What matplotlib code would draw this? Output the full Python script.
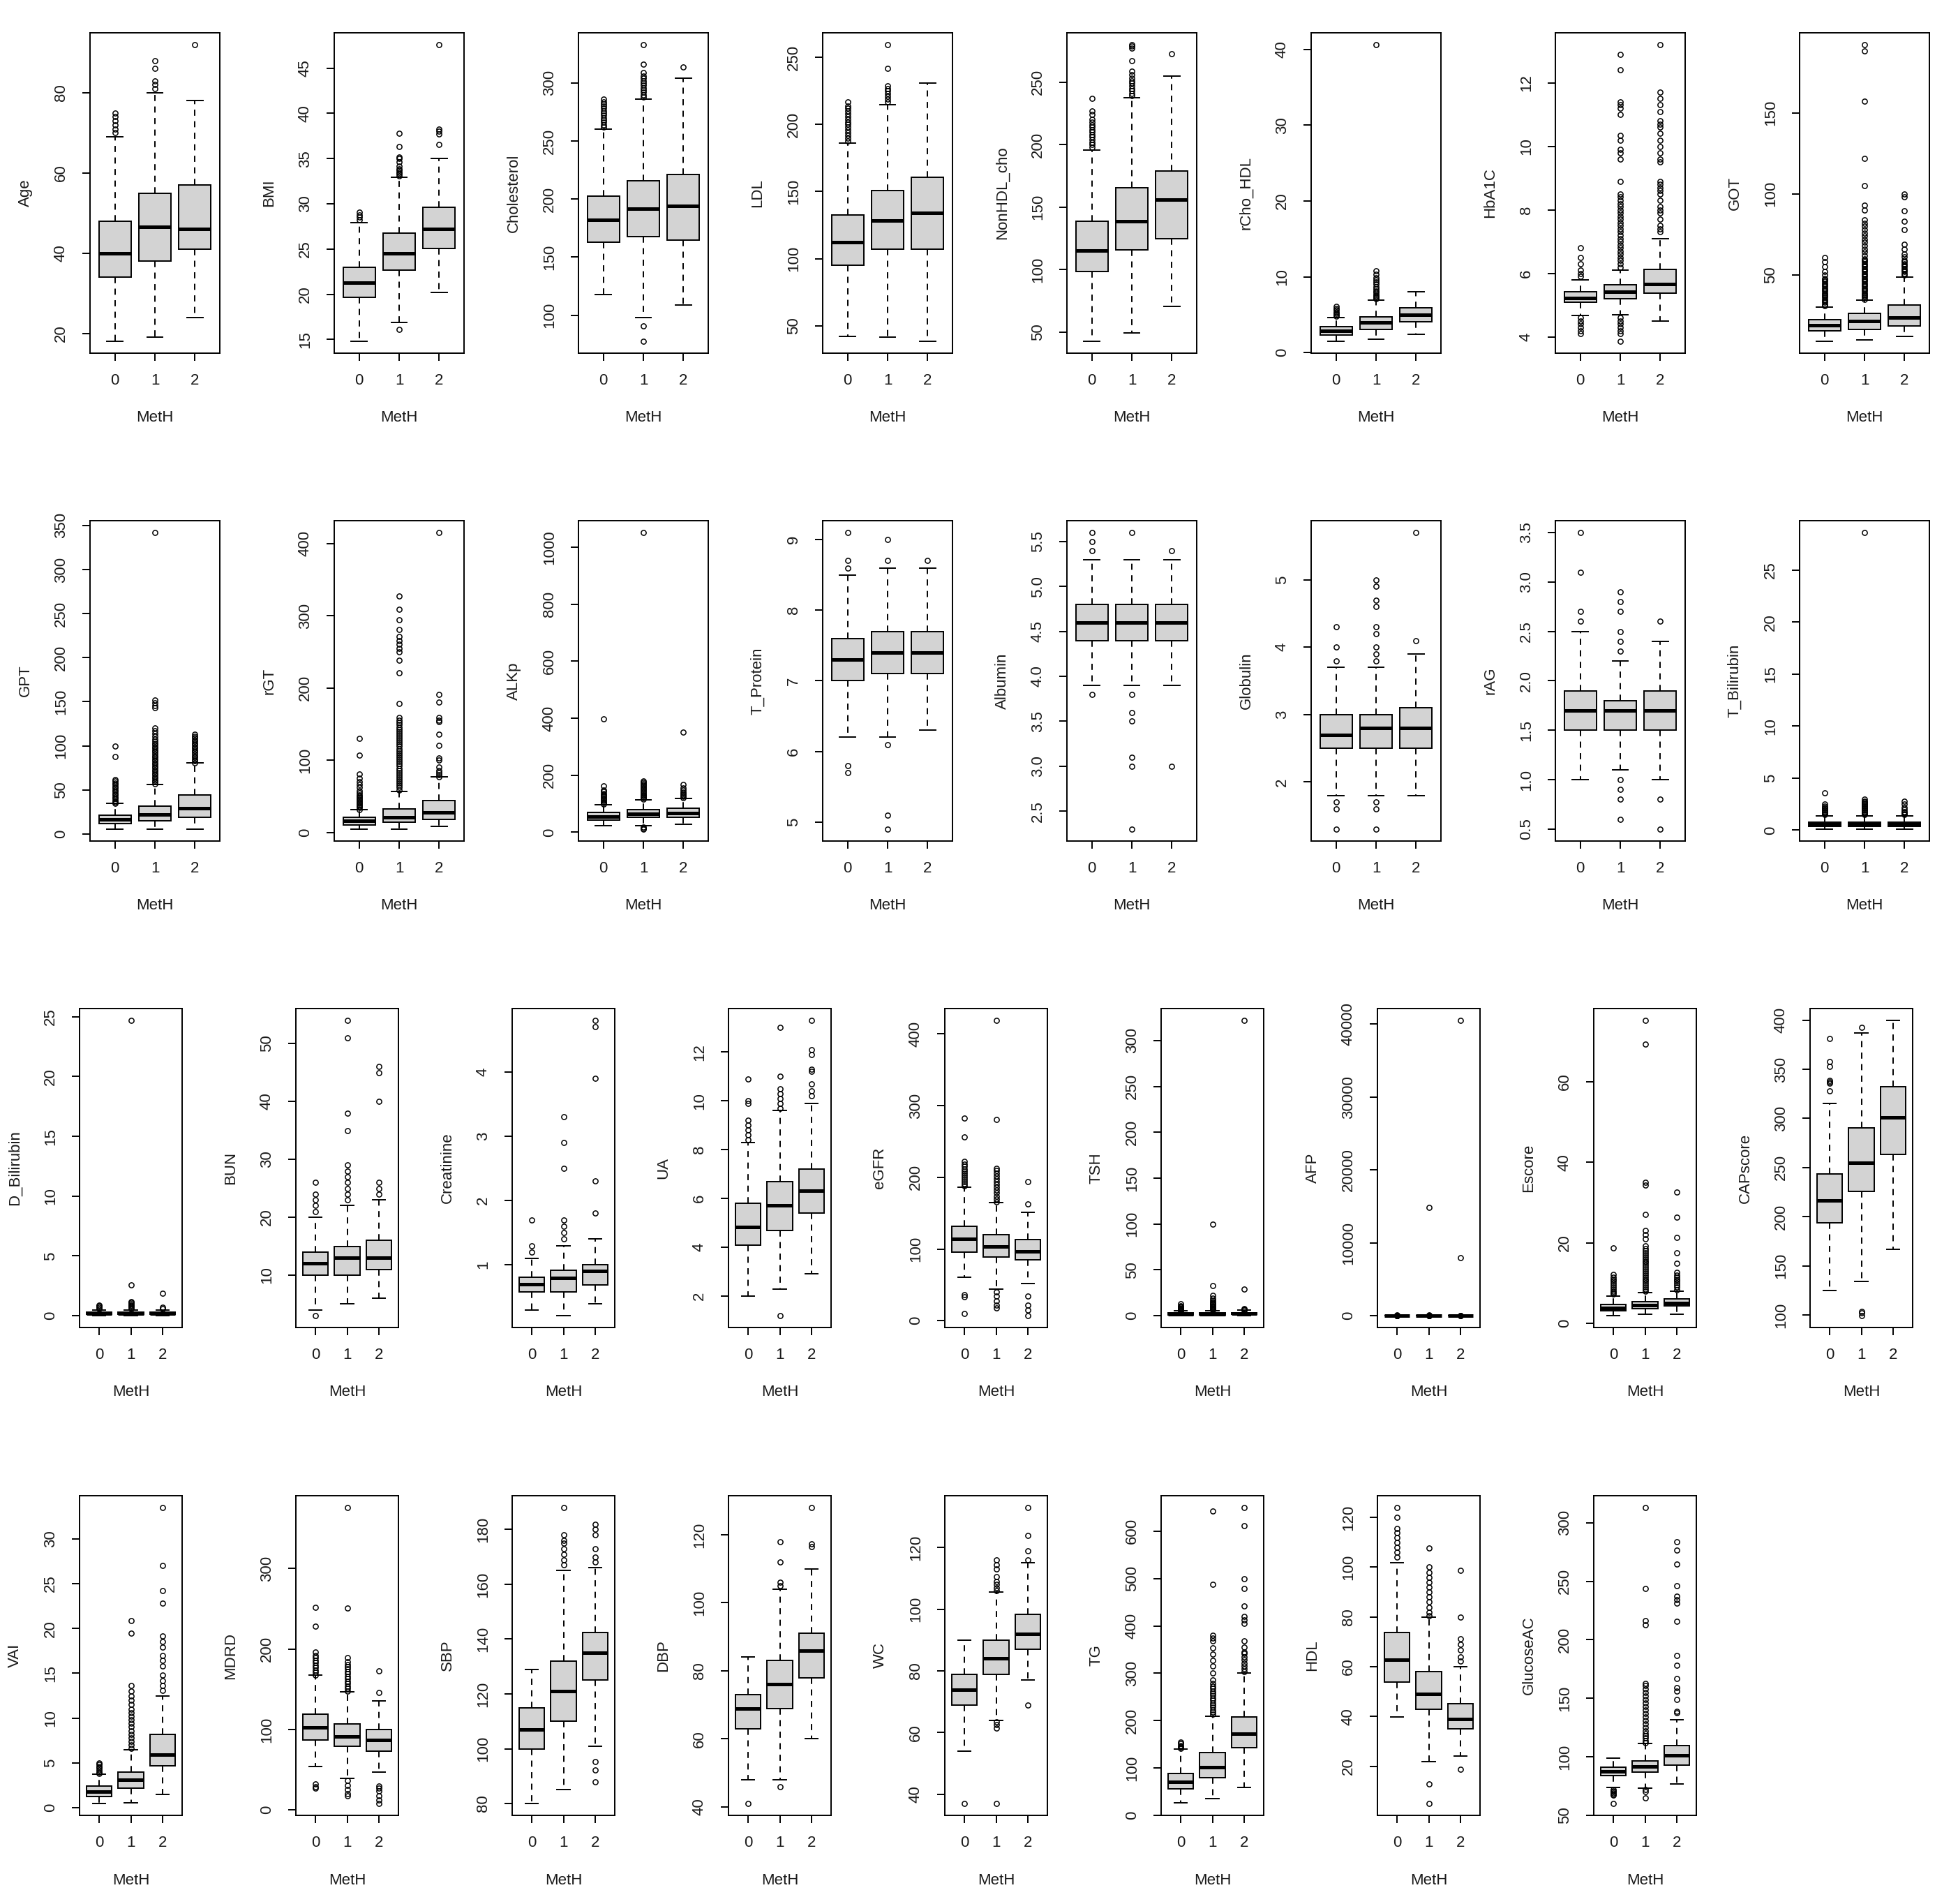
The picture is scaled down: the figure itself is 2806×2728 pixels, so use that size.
import matplotlib
matplotlib.use("Agg")
import matplotlib.pyplot as plt

plt.rcParams['font.family'] = ['Liberation Sans', 'DejaVu Sans']

GROUPS = ["0", "1", "2"]
XLABEL = "MetH"

# ---- per-panel data: box = [whislo, q1, median, q3, whishi] per group; out = outliers per group
AGE_BOX = [[18, 34, 40, 48, 69], [19, 38, 46.5, 55, 80], [24, 41, 46, 57, 78]]
AGE_OUT = [[70, 71, 72, 73, 74, 75], [81, 82, 83, 86, 88], [92]]
AGE_TICKS = [20, 40, 60, 80]

BMI_BOX = [[14.8, 19.7, 21.3, 23.0, 27.9], [16.9, 22.7, 24.5, 26.8, 32.9], [20.2, 25.1, 27.2, 29.6, 35.0]]
BMI_OUT = [[28.2, 28.5, 28.8, 29.1],
           [16.1, 33.1, 33.3, 33.5, 33.7, 33.9, 34.2, 34.6, 35.0, 35.2, 36.3, 37.8],
           [36.6, 37.7, 38.0, 38.3, 47.6]]
BMI_TICKS = [15, 20, 25, 30, 35, 40, 45]

CHOL_BOX = [[117.6, 162.7, 182.2, 202.5, 260.4], [97.7, 167.6, 192, 216, 286.3], [108.8, 164.8, 194, 221, 304.4]]
CHOL_OUT = [[262, 264, 266, 268, 270, 272, 274, 276, 278, 280, 282, 284, 286],
            [77.5, 90.7, 288, 290, 292, 294, 296, 298, 300, 302, 304, 306, 309, 316, 333],
            [314]]
CHOL_TICKS = [100, 150, 200, 250, 300]

LDL_BOX = [[42, 94.8, 112.3, 132.4, 186.3], [41.4, 106.9, 128.4, 151, 214.8], [38.3, 106.9, 134, 160.6, 230.9]]
LDL_OUT = [[188, 190, 192, 194, 196, 198, 200, 202, 204, 206, 208, 210, 212, 214, 217],
           [217, 219, 221, 223, 225, 227, 229, 242, 259.6],
           []]
LDL_TICKS = [50, 100, 150, 200, 250]

NONHDL_BOX = [[42.5, 98.6, 115.2, 138.4, 195.8], [49.1, 115.6, 138.8, 165.3, 237.7], [70.4, 124.8, 156, 179, 255]]
NONHDL_OUT = [[198, 200, 202, 204, 206, 208, 210, 212, 214, 216, 218, 220, 224, 227, 236.7],
              [239, 241, 243, 245, 247, 249, 251, 253, 256, 259, 267, 277, 279, 280],
              [272.8]]
NONHDL_TICKS = [50, 100, 150, 200, 250]

RCHO_BOX = [[1.5, 2.3, 2.9, 3.4, 4.6], [1.8, 3.1, 3.95, 4.7, 6.9], [2.4, 4.1, 5.0, 5.9, 8.0]]
RCHO_OUT = [[4.8, 5.0, 5.2, 5.4, 5.6, 5.8, 6.1],
            [7.1, 7.3, 7.5, 7.7, 7.9, 8.1, 8.4, 8.7, 9.0, 9.3, 9.6, 9.9, 10.3, 10.8, 40.6],
            []]
RCHO_TICKS = [0, 10, 20, 30, 40]

HBA_BOX = [[4.68, 5.08, 5.23, 5.42, 5.8], [4.7, 5.19, 5.42, 5.63, 6.1], [4.49, 5.38, 5.67, 6.12, 7.1]]
HBA_OUT = [[4.1, 4.2, 4.3, 4.4, 4.5, 4.6, 5.9, 6.0, 6.1, 6.3, 6.5, 6.8],
           [3.86, 4.1, 4.2, 4.3, 4.4, 4.5, 4.6, 6.2, 6.3, 6.4, 6.5, 6.6, 6.7, 6.8, 6.9, 7.0, 7.1, 7.2,
            7.3, 7.4, 7.5, 7.6, 7.7, 7.8, 7.9, 8.0, 8.1, 8.2, 8.3, 8.4, 8.5, 8.9, 9.6, 9.8, 9.9, 10.2,
            10.35, 11.0, 11.2, 11.3, 11.4, 12.4, 12.9],
           [7.3, 7.4, 7.5, 7.7, 7.9, 8.0, 8.1, 8.3, 8.5, 8.6, 8.7, 8.8, 8.9, 9.5, 9.6, 9.8, 10.0, 10.2,
            10.4, 10.6, 10.7, 10.8, 11.1, 11.3, 11.5, 11.7, 13.2]]
HBA_TICKS = [4, 6, 8, 10, 12]

GOT_BOX = [[9.1, 15.4, 19, 22.5, 30.2], [10, 16.6, 21.5, 26.4, 34.3], [12.1, 18.7, 23.6, 31.4, 48.8]]
GOT_OUT = [[31, 32, 33, 34, 35, 36, 37, 38, 39, 40, 41, 42, 43, 44, 45, 46, 47, 48, 50, 52, 55, 58, 60.7],
           [35, 36, 37, 38, 39, 40, 41, 42, 43, 44, 45, 46, 47, 48, 49, 50, 51, 52, 53, 54, 55, 56, 57,
            58, 59, 60, 62, 64, 66, 68, 70, 72, 74, 76, 78, 80, 82, 84, 90, 93, 105, 122, 157, 188, 192],
           [50, 51, 52, 53, 54, 55, 56, 57, 58, 59, 61, 63, 66, 69, 78, 83, 89.5, 98, 100]]
GOT_TICKS = [50, 100, 150]

GPT_BOX = [[5.5, 11.6, 16.2, 21.7, 34.6], [5.5, 14.7, 22.4, 31.5, 56], [5.5, 18.7, 29.1, 44.4, 80.5]]
GPT_OUT = [[35, 36, 38, 40, 42, 44, 46, 48, 50, 52, 54, 56, 58, 60, 62, 88, 100],
           [57, 59, 61, 63, 65, 67, 69, 71, 73, 75, 77, 79, 81, 83, 85, 87, 89, 91, 93, 95, 97, 99, 101,
            103, 105, 108, 111, 114, 117, 120, 143, 146, 149, 152, 342],
           [81, 83, 85, 87, 89, 91, 93, 95, 97, 99, 101, 103, 105, 107, 109, 111, 113]]
GPT_TICKS = [0, 50, 100, 150, 200, 250, 300, 350]

RGT_BOX = [[4.5, 10, 15.7, 20.5, 31.7], [4.5, 14.6, 21.3, 32.5, 56.7], [8.2, 18.3, 28, 44.4, 76.5]]
RGT_OUT = [[32, 34, 36, 38, 40, 42, 44, 46, 48, 50, 52, 55, 58, 62, 66, 70, 75, 81, 107, 130],
           [59, 62, 65, 68, 71, 74, 77, 80, 83, 86, 89, 92, 95, 98, 101, 104, 107, 110, 113, 116, 119,
            122, 125, 128, 131, 134, 137, 140, 143, 146, 149, 152, 155, 159, 178, 221, 238, 250, 255,
            260, 265, 271, 281, 294, 309, 327],
           [77, 80, 83, 86, 90, 100, 103, 120, 136, 153, 155, 159, 180, 191, 415]]
RGT_TICKS = [0, 100, 200, 300, 400]

ALKP_BOX = [[22.5, 43, 55, 69, 97.3], [22.5, 52.4, 64.5, 78.6, 113], [27, 52.4, 67.4, 83.3, 117.9]]
ALKP_OUT = [[99, 103, 107, 111, 115, 120, 125, 130, 136, 142, 148, 163, 397],
            [11, 14, 18, 116, 120, 124, 128, 132, 136, 140, 145, 150, 155, 160, 165, 170, 176, 181, 1051],
            [121, 125, 130, 135, 140, 147, 155, 167, 350]]
ALKP_TICKS = [0, 200, 400, 600, 800, 1000]

TPRO_BOX = [[6.2, 7.0, 7.3, 7.6, 8.5], [6.2, 7.1, 7.4, 7.7, 8.6], [6.3, 7.1, 7.4, 7.7, 8.6]]
TPRO_OUT = [[5.7, 5.8, 8.6, 8.7, 9.1], [4.9, 5.1, 6.1, 8.7, 9.0], [8.7]]
TPRO_TICKS = [5, 6, 7, 8, 9]

ALB_BOX = [[3.9, 4.4, 4.6, 4.8, 5.3], [3.9, 4.4, 4.6, 4.8, 5.3], [3.9, 4.4, 4.6, 4.8, 5.3]]
ALB_OUT = [[3.8, 5.4, 5.5, 5.6], [2.3, 3.0, 3.1, 3.5, 3.6, 3.8, 5.6], [3.0, 5.4]]
ALB_TICKS = [2.5, 3.0, 3.5, 4.0, 4.5, 5.0, 5.5]

GLOB_BOX = [[1.8, 2.5, 2.7, 3.0, 3.7], [1.8, 2.5, 2.8, 3.0, 3.7], [1.8, 2.5, 2.8, 3.1, 3.9]]
GLOB_OUT = [[1.3, 1.6, 1.7, 3.8, 4.0, 4.3],
            [1.3, 1.6, 1.7, 3.8, 3.9, 4.0, 4.2, 4.3, 4.6, 4.7, 4.9, 5.0],
            [4.1, 5.7]]
GLOB_TICKS = [2, 3, 4, 5]

RAG_BOX = [[1.0, 1.5, 1.7, 1.9, 2.5], [1.1, 1.5, 1.7, 1.8, 2.2], [1.0, 1.5, 1.7, 1.9, 2.4]]
RAG_OUT = [[2.6, 2.7, 3.1, 3.5], [0.6, 0.8, 0.9, 1.0, 2.3, 2.4, 2.5, 2.7, 2.8, 2.9], [0.5, 0.8, 2.6]]
RAG_TICKS = [0.5, 1.0, 1.5, 2.0, 2.5, 3.0, 3.5]

TBIL_BOX = [[0.1, 0.4, 0.6, 0.8, 1.4], [0.1, 0.4, 0.6, 0.8, 1.4], [0.1, 0.4, 0.6, 0.8, 1.4]]
TBIL_OUT = [[1.5, 1.6, 1.7, 1.8, 1.9, 2.0, 2.1, 2.2, 2.3, 2.5, 3.6],
            [1.5, 1.6, 1.7, 1.8, 1.9, 2.0, 2.1, 2.2, 2.3, 2.4, 2.5, 2.6, 2.7, 2.8, 3.0, 28.6],
            [1.5, 1.6, 1.7, 1.8, 2.0, 2.2, 2.5, 2.8]]
TBIL_TICKS = [0, 5, 10, 15, 20, 25]

DBIL_BOX = [[0.0, 0.1, 0.2, 0.3, 0.5], [0.0, 0.1, 0.2, 0.3, 0.5], [0.0, 0.1, 0.2, 0.3, 0.5]]
DBIL_OUT = [[0.6, 0.7, 0.8, 0.9], [0.6, 0.7, 0.8, 0.9, 1.0, 1.1, 1.2, 2.6, 24.7], [0.6, 0.7, 1.9]]
DBIL_TICKS = [0, 5, 10, 15, 20, 25]

BUN_BOX = [[4, 10, 12, 14, 20], [5, 10, 13, 15, 22], [6, 11, 13, 16, 23]]
BUN_OUT = [[3, 21, 22, 23, 24, 26], [23, 24, 25, 26, 27, 28, 29, 35, 38, 51, 54], [24, 25, 26, 40, 45, 46]]
BUN_TICKS = [10, 20, 30, 40, 50]

CREA_BOX = [[0.3, 0.58, 0.7, 0.81, 1.1], [0.21, 0.58, 0.8, 0.92, 1.3], [0.4, 0.69, 0.9, 1.0, 1.4]]
CREA_OUT = [[1.2, 1.3, 1.7], [1.4, 1.5, 1.6, 1.7, 2.5, 2.9, 3.3], [1.8, 2.3, 3.9, 4.7, 4.8]]
CREA_TICKS = [1, 2, 3, 4]

UA_BOX = [[2.0, 4.1, 4.83, 5.8, 8.3], [2.3, 4.7, 5.72, 6.7, 9.6], [2.93, 5.4, 6.33, 7.22, 9.9]]
UA_OUT = [[8.4, 8.6, 8.8, 9.0, 9.2, 9.9, 10.0, 10.9],
          [1.2, 9.7, 9.9, 10.1, 10.3, 10.5, 11.0, 13.0],
          [10.2, 10.4, 10.7, 11.2, 11.3, 11.9, 12.1, 13.3]]
UA_TICKS = [2, 4, 6, 8, 10, 12]

EGFR_BOX = [[60.5, 95.7, 114.3, 132, 186.6], [43.8, 89, 103, 119.9, 164.4], [52, 84.6, 96.5, 113.5, 151.4]]
EGFR_OUT = [[10.4, 33, 36, 188, 191, 194, 197, 200, 203, 206, 209, 212, 215, 218, 222, 256, 283],
            [18, 22, 28, 34, 40, 166, 170, 174, 178, 182, 186, 190, 194, 198, 202, 206, 210, 213, 281, 419],
            [7, 15, 22, 34.5, 163, 194]]
EGFR_TICKS = [0, 100, 200, 300, 400]

TSH_BOX = [[0.02, 1.2, 1.9, 2.9, 5.4], [0.01, 1.2, 1.9, 3.0, 5.6], [0.05, 1.3, 2.0, 3.1, 5.8]]
TSH_OUT = [[5.6, 6, 6.5, 7, 7.5, 8, 9, 10, 11, 12.8],
           [6, 7, 8, 9, 10, 11, 12, 13, 14, 15, 17, 19, 22, 32.7, 99.7],
           [6, 6.5, 7, 8, 29, 322]]
TSH_TICKS = [0, 50, 100, 150, 200, 250, 300]

AFP_BOX = [[0.8, 2.2, 3.0, 4.1, 6.9], [0.8, 2.3, 3.1, 4.3, 7.3], [1.0, 2.4, 3.3, 4.5, 7.5]]
AFP_OUT = [[7.5, 8.5, 10, 12, 15, 20, 40, 100], [8, 10, 13, 20, 50, 150, 14826], [8, 10, 15, 7964, 40516]]
AFP_TICKS = [0, 10000, 20000, 30000, 40000]

ESC_BOX = [[1.9, 3.2, 3.9, 4.7, 6.8], [2.3, 3.6, 4.5, 5.3, 7.6], [2.2, 4.3, 5.1, 6.0, 8.0]]
ESC_OUT = [[7.2, 7.6, 8.0, 8.5, 9.0, 9.5, 10, 10.5, 11, 11.5, 12.2, 18.8],
           [8, 8.5, 9, 9.5, 10, 10.5, 11, 11.5, 12, 12.5, 13, 13.5, 14, 14.5, 15, 15.5, 16, 16.5, 17,
            17.5, 18, 18.5, 19.2, 21, 22, 23, 27.1, 34.3, 35, 69.3, 75.2],
           [8.4, 9, 9.5, 10, 10.5, 11, 11.5, 12, 12.6, 14.9, 17.5, 21.4, 26.3, 32.6]]
ESC_TICKS = [0, 20, 40, 60]

CAP_BOX = [[124.7, 193.9, 216.7, 243.7, 315], [134.3, 225.9, 254.8, 290.6, 387], [166.9, 263.7, 300.8, 332.5, 399.7]]
CAP_OUT = [[327.7, 335.6, 337, 338.8, 353, 357.8, 381], [99.4, 102, 104, 392.7], []]
CAP_TICKS = [100, 150, 200, 250, 300, 350, 400]

VAI_BOX = [[0.46, 1.24, 1.76, 2.38, 3.7], [0.53, 2.2, 3.15, 4.0, 6.5], [1.5, 4.7, 5.94, 8.2, 12.5]]
VAI_OUT = [[3.8, 4.0, 4.2, 4.4, 4.6, 4.8, 5.0],
           [6.65, 7, 7.4, 7.8, 8.2, 8.6, 9.0, 9.4, 9.8, 10.2, 10.6, 11, 11.5, 12, 12.5, 13, 13.6, 19.5, 20.9],
           [13.1, 13.6, 14.2, 14.8, 15.8, 16.4, 17, 17.9, 18.5, 19.2, 22.8, 24.2, 27, 33.5]]
VAI_TICKS = [0, 5, 10, 15, 20, 25, 30]

MDRD_BOX = [[54.2, 86.7, 102.2, 119.3, 167.3], [39.4, 78.8, 91.2, 107.3, 146.7], [47.3, 73, 86.7, 99.8, 135.4]]
MDRD_OUT = [[27, 29, 32, 168, 171, 174, 177, 180, 183, 186, 189, 192, 196, 228, 252],
            [18, 20, 25, 31, 37, 148, 151, 154, 157, 160, 163, 166, 169, 172, 175, 178, 181, 184, 189.6, 250.6, 375.7],
            [8, 12, 18, 24, 27, 30, 146, 172.4]]
MDRD_TICKS = [0, 100, 200, 300]

SBP_BOX = [[80, 100, 107, 115, 129], [85, 110, 121, 132, 165], [101, 125, 135, 142.3, 166]]
SBP_OUT = [[], [167, 169, 171, 173, 175, 176, 178, 188], [87.8, 92.3, 95.4, 168, 170, 173, 178, 180, 182]]
SBP_TICKS = [80, 100, 120, 140, 160, 180]

DBP_BOX = [[48, 63, 69, 73, 84], [48, 69, 76, 83, 104], [60, 78, 86, 91, 110]]
DBP_OUT = [[41], [46, 105, 106, 112, 118], [116.6, 117.4, 128]]
DBP_TICKS = [40, 60, 80, 100, 120]

WC_BOX = [[54, 69, 74, 79, 90], [64, 79, 84, 90, 105.5], [77, 87, 92, 98.3, 115]]
WC_OUT = [[37], [37, 61.5, 62.5, 63.5, 106, 107, 108, 109, 110.5, 113, 114.5, 116], [69, 116, 119, 124, 133]]
WC_TICKS = [40, 60, 80, 100, 120]

TG_BOX = [[26.3, 55.5, 70.1, 88.8, 140], [35, 78.9, 101, 132.6, 210], [59.6, 143.1, 172.3, 208.5, 300.8]]
TG_OUT = [[142, 145, 148, 152, 155],
          [213, 218, 223, 228, 233, 238, 243, 248, 253, 258, 263, 268, 273, 278, 286, 300, 315, 327, 340,
           353, 368, 374, 380, 488, 642],
          [304, 310, 316, 322, 328, 334, 342, 345, 355, 368, 406, 413, 420, 442, 479, 499, 612, 650]]
TG_TICKS = [0, 100, 200, 300, 400, 500, 600]

HDL_BOX = [[39.8, 53.7, 62.9, 73.8, 101.7], [21.9, 42.9, 49, 58.1, 79.9], [24.1, 34.9, 39.1, 45.2, 59.9]]
HDL_OUT = [[104, 106, 108, 110, 112, 114, 115.6, 120, 124],
           [5, 12.8, 80.5, 82, 84, 86, 88, 90, 92, 94, 96, 98, 100, 107.8],
           [18.8, 62.3, 64, 66.8, 69, 71.2, 80, 98.7]]
HDL_TICKS = [20, 40, 60, 80, 100, 120]

GLU_BOX = [[74, 83.7, 87.4, 90.9, 99], [73.5, 86.9, 91.7, 96.8, 111.5], [76.7, 92.8, 101, 109.6, 131.8]]
GLU_OUT = [[60.2, 67, 68, 69, 70, 71, 72],
           [65, 70, 72, 112, 114, 116, 118, 120, 122, 125, 128, 131, 134, 137, 140, 143, 146, 149, 152,
            155, 158, 161, 163, 212.6, 216.6, 244, 313],
           [137.7, 139, 149, 156.4, 159, 167, 178.3, 186.4, 215.8, 231, 234, 237, 246, 264.7, 276.7, 284]]
GLU_TICKS = [50, 100, 150, 200, 250, 300]

ROW1 = [("Age", AGE_BOX, AGE_OUT, AGE_TICKS), ("BMI", BMI_BOX, BMI_OUT, BMI_TICKS),
        ("Cholesterol", CHOL_BOX, CHOL_OUT, CHOL_TICKS), ("LDL", LDL_BOX, LDL_OUT, LDL_TICKS),
        ("NonHDL_cho", NONHDL_BOX, NONHDL_OUT, NONHDL_TICKS), ("rCho_HDL", RCHO_BOX, RCHO_OUT, RCHO_TICKS),
        ("HbA1C", HBA_BOX, HBA_OUT, HBA_TICKS), ("GOT", GOT_BOX, GOT_OUT, GOT_TICKS)]
ROW2 = [("GPT", GPT_BOX, GPT_OUT, GPT_TICKS), ("rGT", RGT_BOX, RGT_OUT, RGT_TICKS),
        ("ALKp", ALKP_BOX, ALKP_OUT, ALKP_TICKS), ("T_Protein", TPRO_BOX, TPRO_OUT, TPRO_TICKS),
        ("Albumin", ALB_BOX, ALB_OUT, ALB_TICKS), ("Globulin", GLOB_BOX, GLOB_OUT, GLOB_TICKS),
        ("rAG", RAG_BOX, RAG_OUT, RAG_TICKS), ("T_Bilirubin", TBIL_BOX, TBIL_OUT, TBIL_TICKS)]
ROW3 = [("D_Bilirubin", DBIL_BOX, DBIL_OUT, DBIL_TICKS), ("BUN", BUN_BOX, BUN_OUT, BUN_TICKS),
        ("Creatinine", CREA_BOX, CREA_OUT, CREA_TICKS), ("UA", UA_BOX, UA_OUT, UA_TICKS),
        ("eGFR", EGFR_BOX, EGFR_OUT, EGFR_TICKS), ("TSH", TSH_BOX, TSH_OUT, TSH_TICKS),
        ("AFP", AFP_BOX, AFP_OUT, AFP_TICKS), ("Escore", ESC_BOX, ESC_OUT, ESC_TICKS),
        ("CAPscore", CAP_BOX, CAP_OUT, CAP_TICKS)]
ROW4 = [("VAI", VAI_BOX, VAI_OUT, VAI_TICKS), ("MDRD", MDRD_BOX, MDRD_OUT, MDRD_TICKS),
        ("SBP", SBP_BOX, SBP_OUT, SBP_TICKS), ("DBP", DBP_BOX, DBP_OUT, DBP_TICKS),
        ("WC", WC_BOX, WC_OUT, WC_TICKS), ("TG", TG_BOX, TG_OUT, TG_TICKS),
        ("HDL", HDL_BOX, HDL_OUT, HDL_TICKS), ("GlucoseAC", GLU_BOX, GLU_OUT, GLU_TICKS)]

# ---- layout (pixels)
W, H = 2806, 2728
DPI = 100
ROWS = [
    dict(panels=ROW1, left=129, step=350, width=186, top=47, bottom=506),
    dict(panels=ROW2, left=129, step=350, width=186, top=746, bottom=1205),
    dict(panels=ROW3, left=114, step=310, width=147, top=1445, bottom=1902),
    dict(panels=ROW4, left=114, step=310, width=147, top=2143, bottom=2601),
]

FS = 16
TXT = "#1a1a1a"
LW = 1.4

fig = plt.figure(figsize=(W / DPI, H / DPI), dpi=DPI)
fig.patch.set_facecolor("white")


def fmt_tick(v, ticks):
    if any(abs(t - round(t)) > 1e-9 for t in ticks):
        return "%.1f" % v
    return "%d" % round(v)


for row in ROWS:
    hpx = row["bottom"] - row["top"]
    for i, (name, box, out, ticks) in enumerate(row["panels"]):
        lpx = row["left"] + row["step"] * i
        ax = fig.add_axes([lpx / W, 1 - row["bottom"] / H, row["width"] / W, hpx / H])
        stats = []
        for g, (b, o) in enumerate(zip(box, out)):
            stats.append(dict(whislo=b[0], q1=b[1], med=b[2], q3=b[3], whishi=b[4], fliers=o, label=GROUPS[g]))
        ax.bxp(stats, positions=[1, 2, 3], widths=0.8, capwidths=0.4, patch_artist=True,
               boxprops=dict(facecolor="#d3d3d3", edgecolor="black", linewidth=LW),
               medianprops=dict(color="black", linewidth=3.6, solid_capstyle="butt"),
               whiskerprops=dict(color="black", linewidth=LW, linestyle=(0, (4.5, 4))),
               capprops=dict(color="black", linewidth=LW),
               flierprops=dict(marker="o", markerfacecolor="none", markeredgecolor="black",
                               markersize=5.2, markeredgewidth=1.1, linestyle="none"))
        vals = [v for b in box for v in (b[0], b[4])] + [v for o in out for v in o]
        lo, hi = min(vals), max(vals)
        pad = (hi - lo) * 0.04
        ax.set_ylim(lo - pad, hi + pad)
        ax.set_xlim(0.38, 3.62)
        ax.set_xticks([1, 2, 3])
        ax.set_xticklabels(GROUPS, fontsize=FS, color=TXT)
        ax.set_yticks(ticks)
        ax.set_yticklabels([fmt_tick(t, ticks) for t in ticks], fontsize=FS, color=TXT,
                           rotation=90, va="center", ha="center")
        ax.tick_params(axis="both", direction="out", length=8, width=LW, color="black")
        ax.tick_params(axis="x", pad=13)
        ax.tick_params(axis="y", pad=22)
        for sp in ax.spines.values():
            sp.set_linewidth(LW)
            sp.set_color("black")
        ax.set_xlabel(XLABEL, fontsize=FS, color=TXT, va="center")
        ax.set_ylabel(name, fontsize=FS, color=TXT, va="center")
        ax.xaxis.set_label_coords(0.5, -93 / hpx)
        ax.yaxis.set_label_coords(-93 / row["width"], 0.5)

fig.savefig("out.png", dpi=DPI, facecolor="white")
